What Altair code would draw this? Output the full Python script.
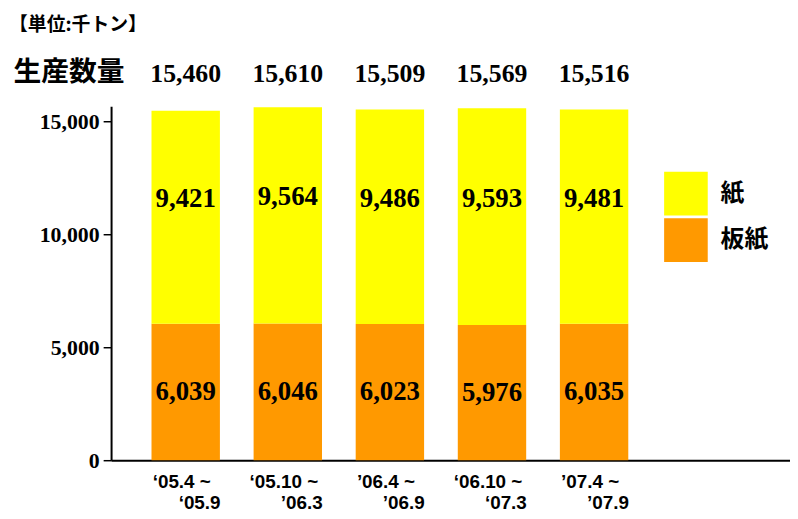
import altair as alt
import pandas as pd

# ---- data ----
periods_line1 = ["‘05.4 ~", "‘05.10 ~", "’06.4 ~", "‘06.10 ~", "’07.4 ~"]
periods_line2 = ["‘05.9", "’06.3", "’06.9", "‘07.3", "’07.9"]
board = [6039, 6046, 6023, 5976, 6035]      # 板紙
paper = [9421, 9564, 9486, 9593, 9481]      # 紙
totals = [15460, 15610, 15509, 15569, 15516]
y_ticks = [0, 5000, 10000, 15000]
kinds = ["紙", "板紙"]
colors = ["#FFFF00", "#FF9900"]

periods = [a + " " + b for a, b in zip(periods_line1, periods_line2)]

rows = []
for p, b, pa in zip(periods, board, paper):
    rows.append({"period": p, "kind": "板紙", "value": b, "start": 0, "end": b, "mid": b / 2})
    rows.append({"period": p, "kind": "紙", "value": pa, "start": b, "end": b + pa, "mid": b + pa / 2})
df = pd.DataFrame(rows)
df_tot = pd.DataFrame({"period": periods, "total": totals,
                       "line1": periods_line1, "line2": periods_line2})
df_unit = pd.DataFrame({"t": ["【単位:千トン】"]})

SERIF = "Liberation Serif"
SANS = "Liberation Sans"
CJK = "Noto Sans CJK JP"

x_enc = alt.X(
    "period:N",
    sort=periods,
    scale=alt.Scale(paddingInner=0.33, paddingOuter=0.99, align=0.2),
    axis=alt.Axis(
        title=None, labels=False, ticks=False, domainColor="black", domainWidth=2,
    ),
)

y_scale = alt.Scale(domain=[0, 15650], nice=False)
y_axis = alt.Axis(
    title="生産数量", titleAngle=0, titleX=-99, titleY=-26, titleAlign="left",
    titleBaseline="alphabetic", titleFont=CJK, titleFontSize=28, titleFontWeight="bold",
    titleColor="black",
    values=y_ticks, format=",d", labelFont=SERIF, labelFontSize=22, labelFontWeight="bold",
    labelColor="black", tickColor="black", tickSize=8, tickWidth=1.5,
    domainColor="black", domainWidth=2, labelPadding=4, grid=False,
)

bars = alt.Chart(df).mark_bar().encode(
    x=x_enc,
    y=alt.Y("start:Q", scale=y_scale, axis=y_axis),
    y2="end:Q",
    color=alt.Color(
        "kind:N",
        scale=alt.Scale(domain=kinds, range=colors),
        legend=alt.Legend(
            title=None, orient="none", legendX=558, legendY=66, symbolType="square",
            symbolSize=1936, symbolStrokeWidth=0, symbolOpacity=1,
            labelFont=CJK, labelFontSize=24, labelFontWeight="bold", labelColor="black",
            labelOffset=13, rowPadding=3, padding=0,
        ),
    ),
)

lbl_board = alt.Chart(df).transform_filter(alt.datum.kind == "板紙").mark_text(
    font=SERIF, fontSize=27, fontWeight="bold", color="black", baseline="middle"
).encode(
    x=x_enc,
    y=alt.Y("mid:Q", scale=y_scale, axis=y_axis),
    text=alt.Text("value:Q", format=","),
)

lbl_paper = alt.Chart(df).transform_filter(alt.datum.kind == "紙").mark_text(
    font=SERIF, fontSize=27, fontWeight="bold", color="black", baseline="middle", dy=-18
).encode(
    x=x_enc,
    y=alt.Y("mid:Q", scale=y_scale, axis=y_axis),
    text=alt.Text("value:Q", format=","),
)

lbl_tot = alt.Chart(df_tot).mark_text(
    font=SERIF, fontSize=26, fontWeight="bold", color="black", baseline="middle"
).encode(
    x=x_enc,
    y=alt.value(-33),
    text=alt.Text("total:Q", format=","),
)

xl1 = alt.Chart(df_tot).mark_text(
    font=SANS, fontSize=19, fontWeight="bold", color="black", baseline="alphabetic", dx=-4
).encode(
    x=x_enc,
    y=alt.value(385),
    text="line1:N",
)

xl2 = alt.Chart(df_tot).mark_text(
    font=SANS, fontSize=19, fontWeight="bold", color="black", baseline="alphabetic", dx=14
).encode(
    x=x_enc,
    y=alt.value(406),
    text="line2:N",
)

unit = alt.Chart(df_unit).mark_text(
    font=CJK, fontSize=19, fontWeight="bold", color="black", align="left", baseline="alphabetic"
).encode(
    x=alt.value(-103),
    y=alt.value(-76),
    text="t:N",
)

chart = alt.layer(bars, lbl_board, lbl_paper, lbl_tot, xl1, xl2, unit).properties(
    width=685,
    height=357,
    autosize=alt.AutoSizeParams(type="none"),
    padding={"left": 104, "top": 97, "right": 0, "bottom": 50},
).configure_view(stroke=None).configure_axis(grid=False)

chart.save("out.html", embed_options={"renderer": "svg", "actions": False})
